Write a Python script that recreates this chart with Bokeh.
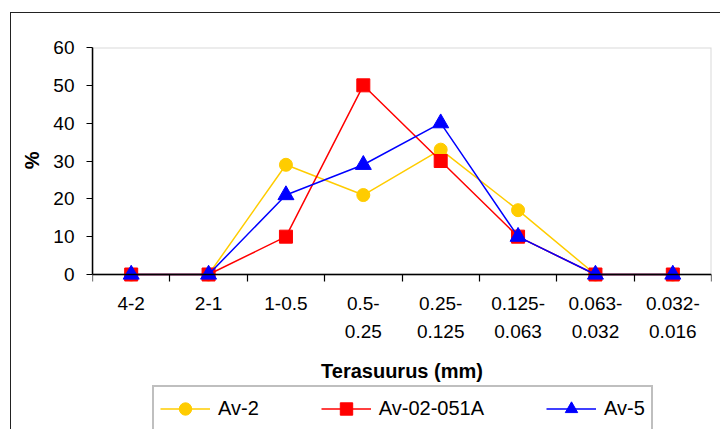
import numpy as np
from bokeh.plotting import figure
from bokeh.models import Range1d, FixedTicker, Legend, LegendItem, BoxAnnotation, Title
from bokeh.embed import file_html
from bokeh.resources import INLINE

categories = ["4-2", "2-1", "1-0.5", "0.5-\n0.25", "0.25-\n0.125", "0.125-\n0.063", "0.063-\n0.032", "0.032-\n0.016"]
av2 = [0, 0, 29, 21, 33, 17, 0, 0]
av02_051a = [0, 0, 10, 50, 30, 10, 0, 0]
av5 = [0, 0, 21, 29, 40, 10, 0, 0]
y_ticks = [0, 10, 20, 30, 40, 50, 60]

FONT = "Liberation Sans"
x = np.arange(len(categories)) + 0.5

# layout (pixels)
FIG_W, FIG_H = 710, 417
TOP, LEFT, RIGHT = 34, 81, 10
PX_PER_UNIT = 227 / 60.0
frame_h = FIG_H - TOP
y_top = 60
y_bottom = y_top - frame_h / PX_PER_UNIT

p = figure(width=FIG_W, height=FIG_H, output_backend="svg", toolbar_location=None,
           x_range=Range1d(0, len(categories)), y_range=Range1d(y_bottom, y_top),
           min_border_left=LEFT, min_border_right=RIGHT, min_border_top=TOP, min_border_bottom=0,
           styles={"margin-left": "10px", "margin-top": "12px",
                   "border-left": "1.5px solid #222", "border-top": "1.5px solid #222"})
p.xgrid.visible = False
p.ygrid.visible = False
p.outline_line_color = None
p.background_fill_color = "white"
p.border_fill_color = "white"

# plot-area box (gray top/right edges)
box = BoxAnnotation(left=0, right=len(categories), bottom=0, top=60,
                    fill_alpha=0, line_color="#808080", line_width=2, level="underlay")
p.add_layout(box)

# x axis
xa = p.xaxis[0]
xa.fixed_location = 0
xa.bounds = (0, len(categories))
xa.ticker = FixedTicker(ticks=list(x), minor_ticks=list(range(len(categories) + 1)))
xa.major_label_overrides = {float(v): c for v, c in zip(x, categories)}
xa.major_tick_out = 0
xa.major_tick_in = 0
xa.minor_tick_out = 7
xa.minor_tick_in = 0
xa.minor_tick_line_color = "black"
xa.axis_line_color = "black"
xa.axis_line_width = 1.5
xa.minor_tick_line_width = 1.2
xa.major_label_text_font = FONT
xa.major_label_text_font_size = "19px"
xa.major_label_text_color = "black"
xa.major_label_text_line_height = 1.35
xa.major_label_standoff = 11
xa.axis_label = "Terasuurus (mm)"
xa.axis_label_text_font = FONT
xa.axis_label_text_font_size = "20px"
xa.axis_label_text_font_style = "bold"
xa.axis_label_text_color = "black"
xa.axis_label_standoff = 15

# y axis
ya = p.yaxis[0]
ya.bounds = (0, 60)
ya.ticker = FixedTicker(ticks=y_ticks)
ya.major_tick_out = 6
ya.major_tick_in = 0
ya.minor_tick_out = 0
ya.minor_tick_in = 0
ya.axis_line_color = "black"
ya.axis_line_width = 1.5
ya.major_tick_line_color = "black"
ya.major_tick_line_width = 1.2
ya.major_label_text_font = FONT
ya.major_label_text_font_size = "19px"
ya.major_label_text_color = "black"
ya.major_label_standoff = 12

# y axis title, centred on the 0..60 span
ytitle = Title(text="%", align="right", offset=104, vertical_align="middle", standoff=14,
               text_font=FONT, text_font_size="20px", text_font_style="bold", text_color="black")
p.add_layout(ytitle, "left")

series = [
    ("Av-2", av2, "#FFCC00", "circle", 13),
    ("Av-02-051A", av02_051a, "#FF0000", "square", 13),
    ("Av-5", av5, "#0000FF", "triangle", 16),
]
items = []
for name, vals, color, marker, size in series:
    ln = p.line(x, vals, line_color=color, line_width=1.5)
    sc = p.scatter(x, vals, marker=marker, size=size, fill_color=color, line_color=color)
    items.append(LegendItem(label=name, renderers=[ln, sc]))

legend = Legend(items=items, orientation="horizontal", location=(60, -2),
                label_text_font=FONT, label_text_font_size="20px", label_text_color="black",
                glyph_width=50, glyph_height=31, label_standoff=8, spacing=62,
                padding=6, margin=0, border_line_color="#808080", border_line_width=2,
                background_fill_alpha=1, click_policy="none")
p.add_layout(legend, "center")

open("out.html", "w").write(file_html(p, INLINE))
